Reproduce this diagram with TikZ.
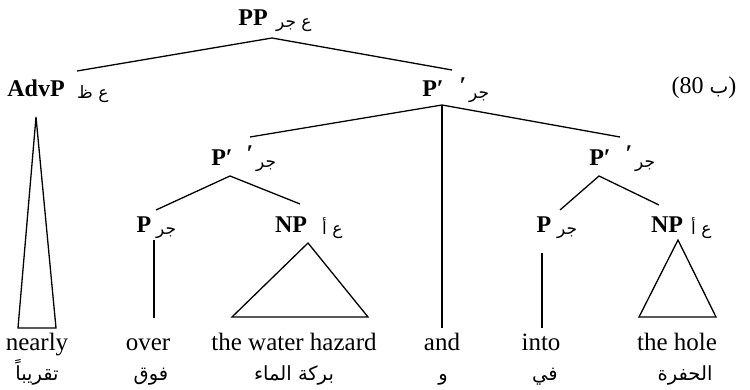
\documentclass[tikz,border=0pt]{standalone}
\usepackage{fontspec}
\setmainfont{Liberation Serif}
\newfontfamily\arabicfont[Script=Arabic]{DejaVu Sans}
\TeXXeTstate=1
\begin{document}
\begin{tikzpicture}[x=1pt,y=-1pt,
  cat/.style={font=\fontsize{24}{26}\selectfont\bfseries, inner sep=0pt, anchor=base},
  word/.style={font=\fontsize{25}{27}\selectfont, inner sep=0pt, anchor=base},
  arlab/.style={font=\arabicfont\fontsize{17}{19}\selectfont, inner sep=0pt, anchor=base west},
  gloss/.style={font=\arabicfont\fontsize{19.5}{22}\selectfont, inner sep=0pt, anchor=base},
  primemark/.style={font=\fontsize{24}{26}\selectfont\bfseries, inner sep=0pt},
  branch/.style={line width=1.3pt}
]
\useasboundingbox (0,0) rectangle (750,390);

% category labels
\node[cat] (PP) at (253,26) {PP};
\node[arlab] (PPa) at (276,28) {\beginR ع جر\endR};
\node[cat] (AdvP) at (36,97) {AdvP};
\node[arlab] (AdvPa) at (77,99) {\beginR ع ظ\endR};
\node[cat] (Pb) at (433,97) {P′};
\node[primemark] (Pbp) at (463,86) {′};
\node[arlab] (Pba) at (469,99) {جر};
\node[cat] (PbL) at (222,166) {P′};
\node[primemark] (PbLp) at (250,154) {′};
\node[arlab] (PbLa) at (256,168) {جر};
\node[cat] (PbR) at (600,166) {P′};
\node[primemark] (PbRp) at (629,154) {′};
\node[arlab] (PbRa) at (635,168) {جر};
\node[cat] (PL) at (144,233) {P};
\node[arlab] (PLa) at (156,235) {جر};
\node[cat] (NPL) at (291,233) {NP};
\node[arlab] (NPLa) at (322,235) {\beginR ع أ\endR};
\node[cat] (PR) at (544,233) {P};
\node[arlab] (PRa) at (557,235) {جر};
\node[cat] (NPR) at (667,233) {NP};
\node[arlab] (NPRa) at (691,235) {\beginR ع أ\endR};
\node[word, font=\fontsize{24}{26}\selectfont] (ex) at (704,94) {(80 {\arabicfont\fontsize{20}{22}\selectfont ب})};

% words
\node[word] (w1) at (37,350) {nearly};
\node[word] (w2) at (148,350) {over};
\node[word] (w3) at (294,350) {the water hazard};
\node[word] (w4) at (442,350) {and};
\node[word] (w5) at (541,350) {into};
\node[word] (w6) at (677,350) {the hole};

% glosses
\node[gloss] (g1) at (37,380) {تقريباً};
\node[gloss] (g2) at (151,380) {فوق};
\node[gloss] (g3) at (294,380) {\beginR بركة الماء\endR};
\node[gloss] (g4) at (443,380) {و};
\node[gloss] (g5) at (545,380) {في};
\node[gloss] (g6) at (685,380) {الحفرة};

% branch end points
\coordinate (rootApex) at (272,38);
\coordinate (advTop) at (77,71);
\coordinate (pbTop) at (452,70);
\coordinate (advApex) at (36,117);
\coordinate (advBL) at (18,328);
\coordinate (advBR) at (56,328);
\coordinate (pbApex) at (442,105);
\coordinate (pbLTop) at (250,137);
\coordinate (pbRTop) at (620,137);
\coordinate (andTop) at (442,328);
\coordinate (pbLApex) at (230,176);
\coordinate (pLTop) at (156,210);
\coordinate (npLTop) at (300,204);
\coordinate (pLa) at (154,240);
\coordinate (pLb) at (154,318);
\coordinate (npLApex) at (308,243);
\coordinate (npLBL) at (232,317);
\coordinate (npLBR) at (368,317);
\coordinate (pbRApex) at (599,176);
\coordinate (pRTop) at (560,210);
\coordinate (npRTop) at (659,205);
\coordinate (pRa) at (542,253);
\coordinate (pRb) at (542,328);
\coordinate (npRApex) at (678,240);
\coordinate (npRBL) at (639,317);
\coordinate (npRBR) at (716,317);

% branches
\draw[branch] (advTop) -- (rootApex) -- (pbTop);
\draw[branch] (advApex) -- (advBL) -- (advBR) -- cycle;
\draw[branch] (pbLTop) -- (pbApex) -- (pbRTop);
\draw[branch] (pbApex) -- (andTop);
\draw[branch] (pLTop) -- (pbLApex) -- (npLTop);
\draw[branch] (pLa) -- (pLb);
\draw[branch] (npLApex) -- (npLBL) -- (npLBR) -- cycle;
\draw[branch] (pRTop) -- (pbRApex) -- (npRTop);
\draw[branch] (pRa) -- (pRb);
\draw[branch] (npRApex) -- (npRBL) -- (npRBR) -- cycle;
\end{tikzpicture}
\end{document}
